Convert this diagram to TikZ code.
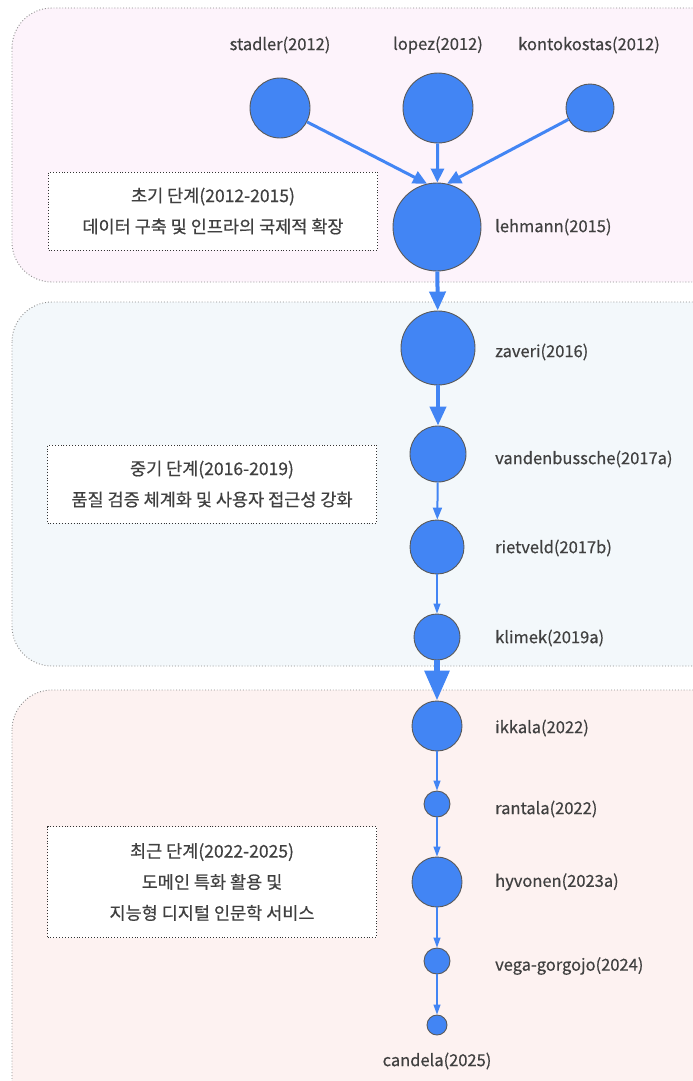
\documentclass[tikz,border=0pt]{standalone}
\usepackage{fontspec}
\setmainfont{Noto Sans CJK KR}
\newfontfamily\medfont{Noto Sans CJK KR}[FakeBold=0.5]
\usetikzlibrary{arrows.meta}
\definecolor{nodeblue}{HTML}{4285F4}
\definecolor{txt}{HTML}{404040}
\definecolor{cA}{HTML}{FDF3FB}
\definecolor{cB}{HTML}{F3F8FB}
\definecolor{cC}{HTML}{FDF2F1}
\tikzset{
  cluster/.style={draw=gray!90, dotted, line width=0.9pt, rounded corners=40pt},
  paper/.style={circle, fill=nodeblue, draw=gray!70!black, line width=0.9pt, inner sep=0pt, minimum size=#1},
  lab/.style={text=txt, font=\medfont\fontsize{16.5}{18}\selectfont, inner sep=0pt},
  note/.style={draw=black!80, dotted, line width=0.9pt, fill=white, text=txt, align=center,
     font=\medfont\fontsize{17.5}{31}\selectfont, minimum width=329pt, inner sep=0pt},
  ethin/.style={draw=nodeblue, line width=1.2pt, -{Triangle[length=10pt,width=7pt]}},
  emid/.style={draw=nodeblue, line width=2pt, -{Triangle[length=12pt,width=9pt]}},
  ethick/.style={draw=nodeblue, line width=3pt, -{Triangle[length=14pt,width=13pt]}},
  ethicker/.style={draw=nodeblue, line width=4pt, -{Triangle[length=19pt,width=16pt]}},
  ethickest/.style={draw=nodeblue, line width=6pt, -{Triangle[length=30pt,width=24pt]}},
}
\begin{document}
\begin{tikzpicture}[x=1pt,y=-1pt]
\useasboundingbox (0,0) rectangle (693,1081);
\begin{scope}
\clip (0,0) rectangle (693,1081);
\fill[white] (0,0) rectangle (693,1081);
\filldraw[cluster, fill=cA] (12,8) rectangle (733,282);
\filldraw[cluster, fill=cB] (12,302) rectangle (733,666);
\filldraw[cluster, fill=cC] (12,690) rectangle (733,1121);
\end{scope}

\node[note, minimum height=78pt] (n1) at (213,211) {초기 단계(2012-2015)\\데이터 구축 및 인프라의 국제적 확장};
\node[note, minimum height=78pt] (n2) at (212,484) {중기 단계(2016-2019)\\품질 검증 체계화 및 사용자 접근성 강화};
\node[note, minimum height=111pt] (n3) at (212,882) {최근 단계(2022-2025)\\도메인 특화 활용 및\\지능형 디지털 인문학 서비스};

\node[paper=60pt] (stadler) at (280,108) {};
\node[paper=70pt] (lopez) at (438,108) {};
\node[paper=48pt] (konto) at (590,108) {};
\node[paper=88pt] (lehmann) at (437,227) {};
\node[paper=74pt] (zaveri) at (438,348) {};
\node[paper=56pt] (vanden) at (438,454) {};
\node[paper=54pt] (rietveld) at (437,547) {};
\node[paper=46pt] (klimek) at (437,637) {};
\node[paper=50pt] (ikkala) at (437,726) {};
\node[paper=26pt] (rantala) at (437,804) {};
\node[paper=50pt] (hyvonen) at (437,882) {};
\node[paper=26pt] (vega) at (437,961) {};
\node[paper=20pt] (candela) at (437,1025) {};

\node[lab] (lstadler) at (280,45) {stadler(2012)};
\node[lab] (llopez) at (438,45) {lopez(2012)};
\node[lab] (lkonto) at (589,45) {kontokostas(2012)};
\node[lab, anchor=west] (llehmann) at (495,227) {lehmann(2015)};
\node[lab, anchor=west] (lzaveri) at (495,352) {zaveri(2016)};
\node[lab, anchor=west] (lvanden) at (495,459) {vandenbussche(2017a)};
\node[lab, anchor=west] (lrietveld) at (495,548) {rietveld(2017b)};
\node[lab, anchor=west] (lklimek) at (495,638) {klimek(2019a)};
\node[lab, anchor=west] (likkala) at (495,728) {ikkala(2022)};
\node[lab, anchor=west] (lrantala) at (495,809) {rantala(2022)};
\node[lab, anchor=west] (lhyvonen) at (495,882) {hyvonen(2023a)};
\node[lab, anchor=west] (lvega) at (495,966) {vega-gorgojo(2024)};
\node[lab] (lcandela) at (437,1061) {candela(2025)};

\draw[ethick] (stadler) -- (lehmann.103);
\draw[ethick] (lopez) -- (lehmann);
\draw[ethick] (konto) -- (lehmann.77);
\draw[ethicker] (lehmann) -- (zaveri);
\draw[ethicker] (zaveri) -- (vanden);
\draw[emid] (vanden) -- (rietveld);
\draw[ethin] (rietveld) -- (klimek);
\draw[ethickest] (klimek) -- (ikkala);
\draw[ethin] (ikkala) -- (rantala);
\draw[ethin] (rantala) -- (hyvonen);
\draw[ethin] (hyvonen) -- (vega);
\draw[ethin] (vega) -- (candela);
\end{tikzpicture}
\end{document}
